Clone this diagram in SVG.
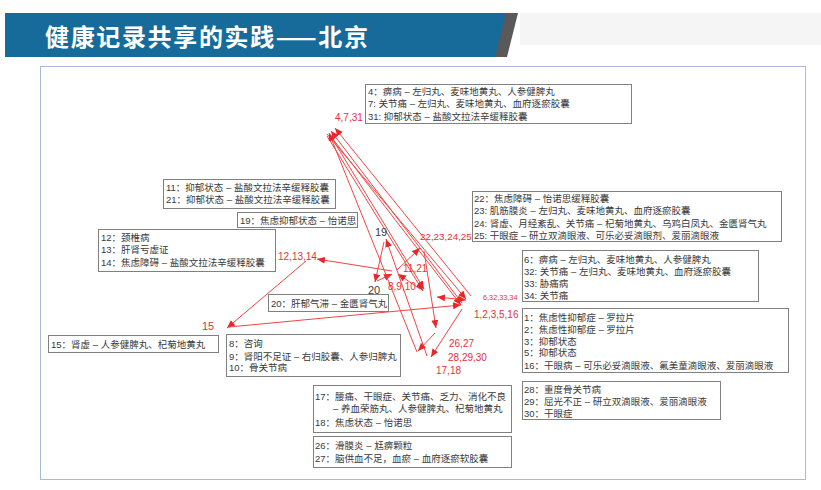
<svg xmlns="http://www.w3.org/2000/svg" width="821" height="490" viewBox="0 0 821 490">
<style>
.bx{fill:#fff;stroke:#808080;stroke-width:1}
.t{font-family:"Liberation Sans","Noto Sans CJK SC",sans-serif;font-size:9.5px;fill:#3a3a3a}
.r{font-family:"Liberation Sans","Noto Sans CJK SC",sans-serif;font-size:10px;fill:#e8303a}
.g{font-family:"Liberation Sans","Noto Sans CJK SC",sans-serif;font-size:11px;fill:#404040}
.ln{stroke:#f04444;stroke-width:1;fill:none;marker-end:url(#ah)}
</style>
<defs>
<marker id="ah" markerUnits="userSpaceOnUse" markerWidth="9" markerHeight="8" refX="8" refY="3.5" orient="auto-start-reverse"><path d="M0,0 L8,3.5 L0,7 z" fill="#e8262b"/></marker>
</defs>
<rect width="821" height="490" fill="#fff"/>
<g id="title">
<rect x="520" y="13" width="301" height="32" fill="#f5f5f5"/>
<polygon points="5,13 516,13 505,57 5,57" fill="#176b9b"/>
<polygon points="506,13 518,13 507,57 495,57" fill="#595959"/>
<text x="45" y="46" font-family="'Noto Sans CJK SC',sans-serif" font-size="24" font-weight="bold" fill="#fff" textLength="323">健康记录共享的实践——北京</text>
</g>
<rect x="40.5" y="66.5" width="765" height="413" fill="none" stroke="#a9bad3" stroke-width="1"/>
<g id="connectors">
<line class="ln" x1="462" y1="303" x2="331" y2="131"/>
<line class="ln" x1="329" y1="134" x2="461" y2="305"/>
<line class="ln" x1="471" y1="296" x2="335" y2="128"/>
<line class="ln" x1="327" y1="134" x2="466" y2="299"/>
<line class="ln" x1="327" y1="136" x2="423" y2="291"/>
<line class="ln" x1="330" y1="135" x2="424" y2="289"/>
<line class="ln" x1="420" y1="289" x2="398" y2="274"/>
<line class="ln" x1="392" y1="271" x2="317" y2="259"/>
<line class="ln" x1="306" y1="261" x2="227" y2="328"/>
<line class="ln" x1="229" y1="327" x2="461" y2="305"/>
<line class="ln" x1="462" y1="309" x2="431" y2="357"/>
<line class="ln" x1="427" y1="356" x2="386" y2="239"/>
<line class="ln" x1="384" y1="242" x2="375" y2="282"/>
<line class="ln" x1="377" y1="281" x2="392" y2="274"/>
<line class="ln" x1="397" y1="270" x2="420" y2="248"/>
<line class="ln" x1="424" y1="251" x2="436" y2="328"/>
<line class="ln" x1="435" y1="333" x2="418" y2="351"/>
<line class="ln" x1="417" y1="352" x2="329" y2="133"/>
<line class="ln" x1="437" y1="297" x2="466" y2="300" marker-start="url(#ah)"/>
</g>
<g id="nA"><rect class="bx" x="365.5" y="84.5" width="266" height="39"/>
<text class="t" x="368" y="95">4：痹病 – 左归丸、麦味地黄丸、人参健脾丸</text>
<text class="t" x="368" y="107">7: 关节痛 – 左归丸、麦味地黄丸、血府逐瘀胶囊</text>
<text class="t" x="368" y="120">31: 抑郁状态 – 盐酸文拉法辛缓释胶囊</text></g>
<g id="nB"><rect class="bx" x="163.5" y="179.5" width="172" height="29"/>
<text class="t" x="166" y="191">11：抑郁状态 – 盐酸文拉法辛缓释胶囊</text>
<text class="t" x="166" y="203">21：抑郁状态 – 盐酸文拉法辛缓释胶囊</text></g>
<g id="nC"><rect class="bx" x="237.5" y="212.5" width="120" height="15"/>
<text class="t" x="240" y="224">19：焦虑抑郁状态 – 怡诺思</text></g>
<g id="nD"><rect class="bx" x="98.5" y="229.5" width="177" height="42"/>
<text class="t" x="101" y="241">12：颈椎病</text>
<text class="t" x="101" y="253">13：肝肾亏虚证</text>
<text class="t" x="101" y="266">14：焦虑障碍 – 盐酸文拉法辛缓释胶囊</text></g>
<g id="nE"><rect class="bx" x="472.5" y="191.5" width="309" height="50"/>
<text class="t" x="474" y="202">22：焦虑障碍 – 怡诺思缓释胶囊</text>
<text class="t" x="474" y="214">23: 肌筋膜炎 – 左归丸、麦味地黄丸、血府逐瘀胶囊</text>
<text class="t" x="474" y="226.5">24: 肾虚、月经紊乱、关节痛 – 杞菊地黄丸、乌鸡白凤丸、金匮肾气丸</text>
<text class="t" x="474" y="239">25: 干眼症 – 研立双滴眼液、可乐必妥滴眼剂、爱丽滴眼液</text></g>
<g id="nF"><rect class="bx" x="522.5" y="250.5" width="236" height="51"/>
<text class="t" x="524" y="263">6：痹病 – 左归丸、麦味地黄丸、人参健脾丸</text>
<text class="t" x="524" y="275">32: 关节痛 – 左归丸、麦味地黄丸、血府逐瘀胶囊</text>
<text class="t" x="524" y="287">33: 胁痛病</text>
<text class="t" x="524" y="299">34: 关节痛</text></g>
<g id="nG"><rect class="bx" x="522.5" y="308.5" width="266" height="64"/>
<text class="t" x="524" y="321">1：焦虑性抑郁症 – 罗拉片</text>
<text class="t" x="524" y="333">2：焦虑性抑郁症 – 罗拉片</text>
<text class="t" x="524" y="344.5">3：抑郁状态</text>
<text class="t" x="524" y="356">5：抑郁状态</text>
<text class="t" x="524" y="368.5">16：干眼病 – 可乐必妥滴眼液、氟美童滴眼液、爱丽滴眼液</text></g>
<g id="nH"><rect class="bx" x="48.5" y="335.5" width="170" height="17"/>
<text class="t" x="51" y="347.5">15：肾虚 – 人参健脾丸、杞菊地黄丸</text></g>
<g id="nI"><rect class="bx" x="226.5" y="334.5" width="174" height="42"/>
<text class="t" x="229" y="347">8：咨询</text>
<text class="t" x="229" y="359.5">9：肾阳不足证 – 右归胶囊、人参归脾丸</text>
<text class="t" x="229" y="371">10：骨关节病</text></g>
<g id="nJ"><rect class="bx" x="268.5" y="294.5" width="120" height="17"/>
<text class="t" x="271" y="306.5">20：肝郁气滞 – 金匮肾气丸</text></g>
<g id="nK"><rect class="bx" x="313.5" y="385.5" width="198" height="47"/>
<text class="t" x="315" y="399.5">17：腰痛、干眼症、关节痛、乏力、消化不良</text>
<text class="t" x="333" y="412">– 养血荣筋丸、人参健脾丸、杞菊地黄丸</text>
<text class="t" x="315" y="425.5">18：焦虑状态 – 怡诺思</text></g>
<g id="nL"><rect class="bx" x="313.5" y="436.5" width="198" height="31"/>
<text class="t" x="315" y="448.5">26：滑膜炎 – 尪痹颗粒</text>
<text class="t" x="315" y="462">27：脑供血不足，血瘀 – 血府逐瘀软胶囊</text></g>
<g id="nM"><rect class="bx" x="522.5" y="381.5" width="198" height="38"/>
<text class="t" x="524" y="393">28：重度骨关节病</text>
<text class="t" x="524" y="405">29：屈光不正 – 研立双滴眼液、爱丽滴眼液</text>
<text class="t" x="524" y="416.5">30：干眼症</text></g>
<g id="labels">
<text class="r" x="335" y="121">4,7,31</text>
<text class="g" x="375" y="236">19</text>
<text class="r" x="420" y="240" style="font-size:9.8px">22,23,24,25</text>
<text class="r" x="278" y="260">12,13,14</text>
<text class="r" x="403" y="272">11,21</text>
<text class="r" x="388" y="290">8,9,10</text>
<text class="g" x="368" y="294">20</text>
<text class="r" x="483" y="300" style="font-size:7.3px">6,32,33,34</text>
<text class="r" x="474" y="318">1,2,3,5,16</text>
<text class="r" x="449" y="347">26,27</text>
<text class="r" x="448" y="361">28,29,30</text>
<text class="r" x="436" y="374">17,18</text>
<text class="r" x="202" y="330" style="font-size:11px">15</text>
</g>
</svg>
